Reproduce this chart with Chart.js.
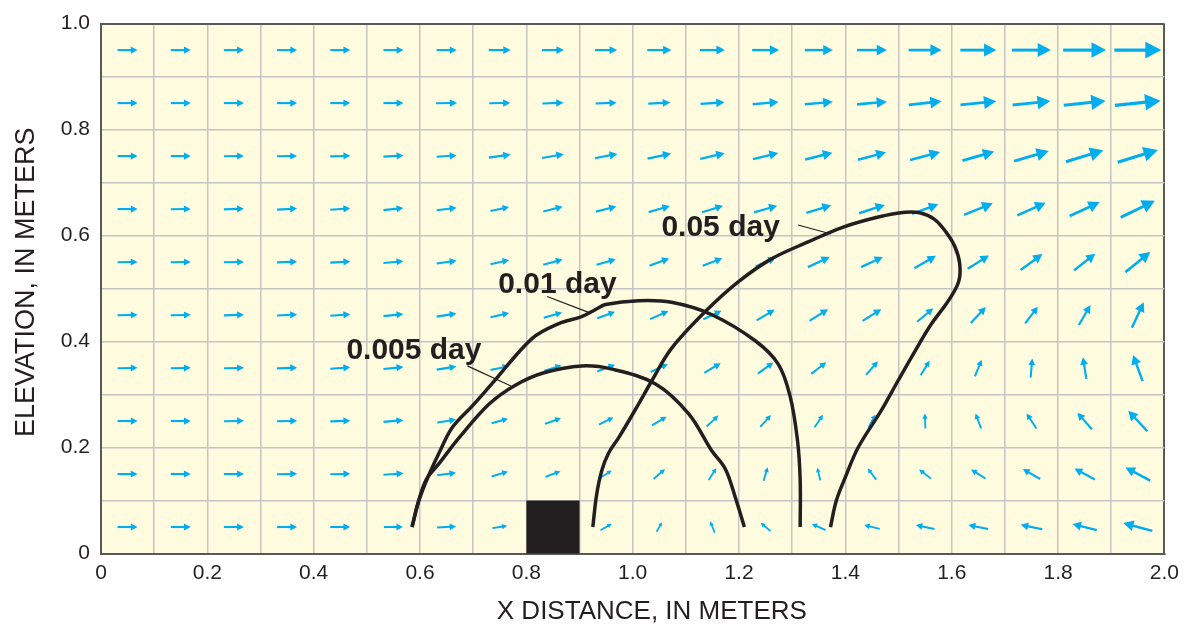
<!DOCTYPE html>
<html lang="en">
<head>
    <meta charset="utf-8" />
    <title>Velocity field and plume outlines</title>
    <script src="https://cdn.jsdelivr.net/npm/chart.js@4.4.1/dist/chart.umd.min.js"></script>
    <style>
        html, body { margin: 0; padding: 0; background: #ffffff; }
        #wrap { width: 1186px; height: 628px; }
    </style>
</head>

<body>
    <div id="wrap"><canvas id="flowChart"></canvas></div>
    <script>
        // tick labels
        const xTickLabels = ['0', '0.2', '0.4', '0.6', '0.8', '1.0', '1.2', '1.4', '1.6', '1.8', '2.0'];
        const yTickLabels = ['0', '0.2', '0.4', '0.6', '0.8', '1.0'];

        // arrow grid: cell centres
        const colDistances = [0.05, 0.15, 0.25, 0.35, 0.45, 0.55, 0.65, 0.75, 0.85, 0.95,
            1.05, 1.15, 1.25, 1.35, 1.45, 1.55, 1.65, 1.75, 1.85, 1.95];
        const rowElevations = [0.95, 0.85, 0.75, 0.65, 0.55, 0.45, 0.35, 0.25, 0.15, 0.05];

        // relative speed (1 = speed at the left edge) per row, top to bottom
        const arrowSpeed = [
            [1, 1, 1, 1, 1, 1, 1, 1.1, 1.1, 1.1, 1.2, 1.25, 1.35, 1.4, 1.5, 1.65, 1.8, 1.95, 2.15, 2.35],
            [1, 1, 1, 1, 1, 1, 1.05, 1.05, 1.05, 1.05, 1.1, 1.2, 1.3, 1.4, 1.5, 1.65, 1.8, 1.9, 2.1, 2.3],
            [1, 1, 1, 1, 1, 1, 1, 1.1, 1.1, 1.15, 1.2, 1.25, 1.3, 1.4, 1.45, 1.55, 1.65, 1.8, 1.95, 2.1],
            [1, 1, 1, 1, 1, 1, 1, 0.95, 1, 1.05, 1.1, 1.1, 1.2, 1.3, 1.35, 1.4, 1.55, 1.55, 1.65, 1.9],
            [1, 1, 1, 1, 1, 1, 1, 0.95, 1, 1, 1.05, 1.05, 1.1, 1.2, 1.2, 1.25, 1.25, 1.35, 1.35, 1.6],
            [1, 1, 1, 1, 1, 1, 1, 0.95, 0.95, 0.95, 1, 1, 1.05, 1.1, 1.1, 1.05, 1.1, 1.05, 1.15, 1.4],
            [1, 1, 1, 1, 1, 1, 1, 0.95, 0.9, 0.95, 0.95, 0.95, 0.95, 0.95, 0.9, 0.85, 0.9, 0.95, 1.1, 1.4],
            [1, 1, 1, 1, 1, 1, 0.95, 0.85, 0.85, 0.8, 0.85, 0.8, 0.8, 0.75, 0.75, 0.75, 0.8, 0.9, 1.1, 1.4],
            [1, 1, 1, 1, 1, 1, 0.95, 0.85, 0.8, 0.65, 0.75, 0.7, 0.7, 0.65, 0.7, 0.75, 0.85, 1, 1.15, 1.4],
            [1, 1, 1, 1, 1, 0.95, 0.95, 0.75, null, 0.65, 0.55, 0.6, 0.65, 0.75, 0.8, 0.95, 1, 1.1, 1.25, 1.5]
        ];
        // flow direction in degrees, counter-clockwise from +x
        const arrowAngle = [
            [0, 0, 0, 0, 0, 0, 0, 0, 0, 0, 0, 0, 0, 0, 0, 0, 0, 0, 0, 0],
            [0, 0, 0, 0, 0, 0, 1, 1, 2, 2, 3, 4, 5, 5, 5, 6, 6, 6, 6, 6],
            [0, 0, 1, 1, 2, 3, 4, 8, 10, 11, 12, 13, 14, 14, 15, 15, 16, 16, 17, 17],
            [0, 1, 2, 3, 4, 6, 7, 12, 14, 14, 16, 17, 16, 17, 18, 20, 22, 24, 25, 26],
            [1, 1, 1, 2, 3, 5, 8, 13, 15, 16, 20, 21, 24, 25, 25, 30, 32, 36, 38, 39],
            [1, 1, 2, 3, 4, 6, 9, 13, 16, 20, 24, 25, 31, 32, 32, 40, 47, 53, 60, 65],
            [1, 1, 1, 2, 4, 6, 9, 12, 17, 21, 25, 31, 36, 38, 49, 58, 68, 85, 99, 110],
            [0, 0, 1, 1, 2, 5, 9, 15, 20, 26, 31, 43, 48, 56, 62, 92, 110, 123, 131, 133],
            [0, 0, 0, 1, 1, 4, 8, 17, 21, 32, 41, 57, 73, 103, 127, 142, 148, 150, 152, 152],
            [0, 0, 0, 0, 0, 0, 3, 9, null, 30, 60, 112, 140, 156, 166, 168, 169, 168, 166, 165]
        ];

        // source block
        const blockX = [0.8, 0.9];
        const blockY = [0, 0.1];

        // plume outlines [x, elevation]
        const curve005 = [
            [0.585, 0.05], [0.596, 0.095], [0.612, 0.14], [0.636, 0.17], [0.674, 0.219],
            [0.730, 0.282], [0.780, 0.318], [0.833, 0.341], [0.904, 0.354], [0.961, 0.348],
            [1.043, 0.320], [1.105, 0.264], [1.148, 0.195], [1.174, 0.160], [1.193, 0.106], [1.210, 0.05]
        ];
        const curve01 = [
            [0.585, 0.05], [0.598, 0.10], [0.614, 0.142], [0.636, 0.190], [0.660, 0.237],
            [0.698, 0.278], [0.735, 0.320], [0.811, 0.406], [0.861, 0.434], [0.904, 0.447],
            [0.931, 0.461], [0.949, 0.470], [1.011, 0.477], [1.073, 0.474], [1.148, 0.451],
            [1.231, 0.401], [1.274, 0.357], [1.296, 0.297], [1.310, 0.213], [1.315, 0.138], [1.315, 0.05]
        ];
        const curve05 = [
            [0.925, 0.05], [0.932, 0.110], [0.942, 0.157], [0.955, 0.190], [0.974, 0.219],
            [1.011, 0.282], [1.036, 0.326], [1.073, 0.387], [1.137, 0.457], [1.199, 0.513],
            [1.261, 0.556], [1.330, 0.588], [1.396, 0.616], [1.462, 0.635], [1.512, 0.644],
            [1.540, 0.643], [1.567, 0.631], [1.589, 0.607], [1.606, 0.579], [1.615, 0.547],
            [1.613, 0.513], [1.593, 0.476], [1.561, 0.432], [1.531, 0.382], [1.499, 0.326],
            [1.467, 0.269], [1.424, 0.200], [1.400, 0.144], [1.383, 0.100], [1.372, 0.05]
        ];

        // curve labels: text, text anchor, leader line start/end
        const curveNotes = [
            { text: '0.005 day', at: [0.4615, 0.367], from: [0.689, 0.354], to: [0.771, 0.316] },
            { text: '0.01 day', at: [0.747, 0.4925], from: [0.839, 0.485], to: [0.917, 0.455] },
            { text: '0.05 day', at: [1.054, 0.5994], from: [1.311, 0.620], to: [1.373, 0.603] }
        ];

        const xTitle = 'X DISTANCE, IN METERS';
        const yTitle = 'ELEVATION, IN METERS';

        const ink = '#231f20';
        const arrowPx = 20;
        const fontFamily = '"Liberation Sans", Arial, sans-serif';

        const fieldPlugin = {
            id: 'field',
            beforeDraw(chart) {
                const { ctx, chartArea: a } = chart;
                ctx.save();
                ctx.fillStyle = '#fffbdf';
                ctx.fillRect(a.left, a.top, a.right - a.left, a.bottom - a.top);
                ctx.restore();
            },
            beforeDatasetsDraw(chart) {
                const { ctx, scales: { x, y } } = chart;
                ctx.save();
                ctx.fillStyle = '#00aeef';
                ctx.strokeStyle = '#00aeef';
                ctx.lineCap = 'butt';
                rowElevations.forEach((yv, r) => {
                    colDistances.forEach((xv, c) => {
                        const s = arrowSpeed[r][c];
                        if (s == null) return;
                        const a = arrowAngle[r][c] * Math.PI / 180;
                        const len = s * arrowPx;
                        const cx = x.getPixelForValue(xv);
                        const cy = y.getPixelForValue(yv);
                        const dx = Math.cos(a), dy = -Math.sin(a);
                        const tipX = cx + dx * len / 2, tipY = cy + dy * len / 2;
                        const tailX = cx - dx * len / 2, tailY = cy - dy * len / 2;
                        const hl = len * 0.34, hw = len * 0.18;
                        const bx = tipX - dx * hl, by = tipY - dy * hl;
                        ctx.lineWidth = 1.2 + len * 0.045;
                        ctx.beginPath();
                        ctx.moveTo(tailX, tailY);
                        ctx.lineTo(bx + dx, by + dy);
                        ctx.stroke();
                        ctx.beginPath();
                        ctx.moveTo(tipX, tipY);
                        ctx.lineTo(bx - dy * hw, by + dx * hw);
                        ctx.lineTo(bx + dy * hw, by - dx * hw);
                        ctx.closePath();
                        ctx.fill();
                    });
                });
                // source block
                const x0 = x.getPixelForValue(blockX[0]), x1 = x.getPixelForValue(blockX[1]);
                const y0 = y.getPixelForValue(blockY[0]), y1 = y.getPixelForValue(blockY[1]);
                ctx.fillStyle = ink;
                ctx.fillRect(x0, y1, x1 - x0, y0 - y1);
                ctx.restore();
            },
            afterDatasetsDraw(chart) {
                const { ctx, scales: { x, y } } = chart;
                ctx.save();
                ctx.strokeStyle = ink;
                ctx.fillStyle = ink;
                ctx.lineWidth = 1.2;
                ctx.font = 'bold 30px ' + fontFamily;
                ctx.textBaseline = 'alphabetic';
                ctx.textAlign = 'left';
                curveNotes.forEach(n => {
                    ctx.beginPath();
                    ctx.moveTo(x.getPixelForValue(n.from[0]), y.getPixelForValue(n.from[1]));
                    ctx.lineTo(x.getPixelForValue(n.to[0]), y.getPixelForValue(n.to[1]));
                    ctx.stroke();
                    ctx.fillText(n.text, x.getPixelForValue(n.at[0]), y.getPixelForValue(n.at[1]));
                });

                // axis titles (the x title sits a little right of centre in the original)
                ctx.textAlign = 'center';
                ctx.textBaseline = 'middle';
                ctx.font = '26px ' + fontFamily;
                ctx.fillText(xTitle, x.getPixelForValue(1.036), 612);
                ctx.translate(27, y.getPixelForValue(0.512));
                ctx.rotate(-Math.PI / 2);
                ctx.font = '27px ' + fontFamily;
                ctx.fillText(yTitle, 0, 0);
                ctx.restore();
            }
        };

        const toPoints = arr => arr.map(p => ({ x: p[0], y: p[1] }));
        const lineStyle = {
            showLine: true,
            borderColor: ink,
            borderWidth: 3.5,
            pointRadius: 0,
            tension: 0.35,
            fill: false
        };

        const gridColor = (max) => (c) => (c.tick && Math.abs(c.tick.value - max) < 1e-6) ? '#58595b' : '#c4c4c4';
        const gridWidth = (max) => (c) => (c.tick && Math.abs(c.tick.value - max) < 1e-6) ? 2 : 1.5;

        new Chart(document.getElementById('flowChart'), {
            type: 'scatter',
            data: {
                datasets: [
                    Object.assign({ label: '0.005 day', data: toPoints(curve005) }, lineStyle),
                    Object.assign({ label: '0.01 day', data: toPoints(curve01) }, lineStyle),
                    Object.assign({ label: '0.05 day', data: toPoints(curve05) }, lineStyle)
                ]
            },
            options: {
                responsive: true,
                maintainAspectRatio: false,
                animation: false,
                layout: { padding: { top: 20.5, right: 19, bottom: 0, left: 0 } },
                plugins: {
                    legend: { display: false },
                    tooltip: { enabled: false }
                },
                scales: {
                    x: {
                        type: 'linear',
                        min: 0,
                        max: 2,
                        afterFit: s => { s.height = 74.5; },
                        border: { display: true, color: '#58595b', width: 2 },
                        grid: { drawTicks: false, color: gridColor(2), lineWidth: gridWidth(2) },
                        ticks: {
                            stepSize: 0.1,
                            autoSkip: false,
                            maxRotation: 0,
                            padding: 7,
                            color: ink,
                            font: { family: fontFamily, size: 21 },
                            callback: (v, i) => i % 2 === 0 ? xTickLabels[i / 2] : ''
                        },
                        title: { display: false }
                    },
                    y: {
                        type: 'linear',
                        min: 0,
                        max: 1,
                        afterFit: s => { s.width = 101; },
                        border: { display: true, color: '#58595b', width: 2 },
                        grid: { drawTicks: false, color: gridColor(1), lineWidth: gridWidth(1) },
                        ticks: {
                            stepSize: 0.1,
                            autoSkip: false,
                            padding: 11,
                            color: ink,
                            font: { family: fontFamily, size: 21 },
                            callback: (v, i) => i % 2 === 0 ? yTickLabels[i / 2] : ''
                        },
                        title: { display: false }
                    }
                }
            },
            plugins: [fieldPlugin]
        });
    </script>
</body>

</html>
